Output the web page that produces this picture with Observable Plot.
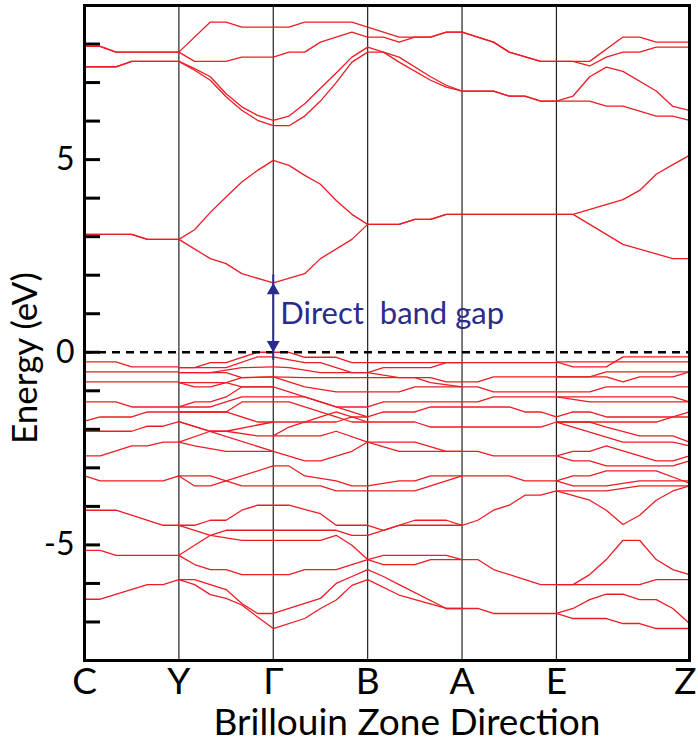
<!DOCTYPE html>
<html><head><meta charset="utf-8">
<script src="https://cdn.jsdelivr.net/npm/d3@7"></script>
<script src="https://cdn.jsdelivr.net/npm/@observablehq/plot@0.6"></script>
<style>
body{margin:0;background:#fff;}
#chart svg{font-family:Lato,"Open Sans",sans-serif;}
#chart text.pre{white-space:pre;}
</style></head><body><div id="chart"></div>
<script>
// high-symmetry points: label, path position, k-point index
const kLabels = ["C","Y","Γ","B","A","E","Z"];
const kPos = [0,1,2,3,4,5,6.41];
const kIdx = [0,6,12,18,24,30,38];
const yMajorTicks = [-5,0,5];
const yMinorTicks = [-7,-6,-5,-4,-3,-2,-1,0,1,2,3,4,5,6,7,8];
const xTitle = "Brillouin Zone Direction";
const yTitle = "Energy (eV)";
const gapNote = "Direct  band gap";
const gap = {idx:12, vbm:0, cbm:1.80};

// conduction bands: [k-index, energy eV]
const cb1 = [[0,3.06],[3,3.06],[4,2.93],[6,2.93],[8,2.43],[9,2.30],[10,2.04],[12,1.80],[14,2.04],[15,2.43],[17,2.93],[18,3.32],[20,3.32],[21,3.45],[22,3.45],[23,3.58],[31,3.58],[32,3.32],[34,2.80],[37,2.43],[38,2.43]];
const cb2 = [[0,3.06],[3,3.06],[4,2.93],[6,2.93],[7,3.18],[8,3.63],[9,4.03],[10,4.42],[11,4.72],[12,4.98],[13,4.85],[14,4.59],[15,4.36],[16,3.94],[17,3.58],[18,3.32],[20,3.32],[21,3.45],[22,3.45],[23,3.58],[31,3.58],[34,3.96],[35,4.20],[36,4.62],[37,4.87],[38,5.11]];
const cb3 = [[0,7.41],[2,7.41],[3,7.55],[6,7.55],[7,7.32],[8,7.06],[9,6.63],[10,6.28],[11,6.02],[12,5.88],[13,5.88],[14,6.13],[15,6.52],[16,7.00],[17,7.53],[18,7.79],[19,7.79],[20,7.53],[22,7.06],[23,6.88],[24,6.78],[26,6.78],[27,6.65],[28,6.65],[29,6.52],[32,6.52],[33,6.39],[34,6.39],[36,6.13],[37,6.13],[38,6.02]];
const cb4 = [[0,7.41],[2,7.41],[3,7.55],[6,7.55],[7,7.36],[8,7.15],[9,6.71],[10,6.37],[11,6.15],[12,6.02],[13,6.13],[14,6.45],[15,6.85],[16,7.25],[17,7.66],[18,7.92],[19,7.79],[20,7.66],[22,7.15],[23,6.93],[24,6.78],[26,6.78],[27,6.65],[28,6.65],[29,6.52],[30,6.52],[31,6.65],[32,7.15],[33,7.40],[34,7.29],[36,6.78],[37,6.38],[38,6.28]];
const cb5 = [[0,7.94],[1,7.94],[2,7.79],[6,7.79],[7,7.55],[9,7.55],[10,7.66],[12,7.66],[13,7.79],[14,7.79],[15,8.05],[17,8.31],[18,8.18],[19,8.18],[20,8.05],[21,8.18],[22,8.18],[23,8.31],[24,8.31],[26,8.05],[27,7.79],[29,7.55],[31,7.55],[32,7.43],[33,7.66],[34,7.79],[35,7.79],[36,7.92],[38,7.92]];
const cb6 = [[0,7.94],[1,7.94],[2,7.79],[6,7.79],[8,8.57],[9,8.57],[10,8.44],[13,8.44],[14,8.57],[17,8.57],[18,8.44],[20,8.18],[22,8.18],[23,8.31],[24,8.31],[26,8.05],[27,7.79],[29,7.55],[32,7.55],[34,8.18],[35,8.18],[36,8.05],[38,8.05]];

// valence bands, segment by segment: [k-index, energy eV]
const vbCY = [
 [[0,-0.25],[2,-0.25],[3,-0.38],[6,-0.38]],
 [[0,-0.51],[6,-0.51]],
 [[0,-0.77],[6,-0.77]],
 [[0,-1.29],[2,-1.29],[3,-1.42],[6,-1.42]],
 [[0,-1.79],[1,-1.68],[3,-1.68],[4,-1.55],[6,-1.55]],
 [[0,-2.05],[3,-2.05],[4,-1.92],[5,-1.92],[6,-1.80]],
 [[0,-2.69],[1,-2.69],[3,-2.43],[4,-2.43],[5,-2.33],[6,-2.33]],
 [[0,-3.21],[1,-3.34],[5,-3.34],[6,-3.21]],
 [[0,-4.10],[2,-4.10],[5,-4.49],[6,-4.49]],
 [[0,-5.14],[1,-5.14],[2,-5.27],[6,-5.27]],
 [[0,-6.41],[1,-6.41],[4,-6.03],[5,-6.03],[6,-5.90]]
];
const vbYG = [
 [[6,-0.40],[7,-0.40],[8,-0.27],[9,-0.27],[11,0.00],[12,0.00]],
 [[6,-0.40],[9,-0.40],[11,-0.12],[12,-0.12]],
 [[6,-0.53],[8,-0.53],[10,-0.40],[12,-0.38]],
 [[6,-0.53],[9,-0.53],[10,-0.66],[12,-0.64]],
 [[6,-0.79],[7,-0.90],[8,-0.90],[9,-0.79],[10,-0.66],[12,-0.64]],
 [[6,-0.79],[9,-0.79],[10,-0.90],[12,-0.90]],
 [[6,-1.42],[7,-1.29],[8,-1.29],[9,-1.16],[10,-0.90],[12,-0.90]],
 [[6,-1.42],[8,-1.42],[10,-1.16],[12,-1.16]],
 [[6,-1.55],[9,-1.55],[10,-1.29],[12,-1.29]],
 [[6,-1.55],[9,-1.55],[11,-1.81],[12,-1.81]],
 [[6,-1.80],[8,-2.05],[9,-2.05],[11,-2.17],[12,-2.17]],
 [[6,-1.80],[12,-2.57]],
 [[6,-2.33],[8,-2.05],[9,-2.05],[12,-1.81]],
 [[6,-2.33],[7,-2.43],[9,-2.57],[12,-2.57]],
 [[6,-3.21],[7,-3.47],[8,-3.47],[9,-3.34],[12,-2.95]],
 [[6,-3.21],[8,-3.21],[10,-3.47],[12,-3.47]],
 [[6,-4.49],[7,-4.49],[8,-4.36],[9,-4.36],[10,-4.10],[11,-3.97],[12,-3.97]],
 [[6,-4.49],[8,-4.75],[10,-4.88],[12,-4.88]],
 [[6,-5.27],[8,-4.75],[9,-4.62],[12,-4.62]],
 [[6,-5.27],[7,-5.51],[8,-5.64],[9,-5.64],[10,-5.77],[12,-5.77]],
 [[6,-5.90],[7,-5.90],[8,-6.03],[9,-6.16],[10,-6.52],[11,-6.78],[12,-6.78]],
 [[6,-5.90],[7,-6.03],[8,-6.29],[9,-6.39],[10,-6.56],[11,-6.87],[12,-7.17]]
];
const vbGB = [
 [[12,0.00],[13,0.00],[14,-0.13],[16,-0.13],[17,-0.27],[18,-0.27]],
 [[12,-0.12],[14,-0.27],[15,-0.27],[17,-0.53],[18,-0.53]],
 [[12,-0.38],[13,-0.40],[15,-0.53],[18,-0.53]],
 [[12,-0.64],[14,-0.66],[18,-0.66]],
 [[12,-0.64],[14,-0.90],[16,-1.03],[18,-1.03]],
 [[12,-0.90],[13,-1.03],[16,-1.42],[18,-1.42]],
 [[12,-1.16],[14,-1.16],[16,-1.42],[17,-1.55],[18,-1.68]],
 [[12,-1.29],[13,-1.29],[16,-1.68],[17,-1.81],[18,-1.81]],
 [[12,-1.81],[16,-1.81],[17,-1.68],[18,-1.68]],
 [[12,-2.17],[13,-1.94],[15,-1.68],[16,-1.55],[18,-1.81]],
 [[12,-2.17],[15,-2.17],[16,-2.05],[18,-2.33]],
 [[12,-2.57],[14,-2.82],[15,-2.82],[17,-2.57],[18,-2.33]],
 [[12,-2.95],[13,-2.95],[14,-3.21],[16,-3.34],[17,-3.47],[18,-3.47]],
 [[12,-3.47],[15,-3.47],[16,-3.60],[18,-3.60]],
 [[12,-3.97],[13,-3.97],[15,-4.19],[16,-4.49],[18,-4.49]],
 [[12,-4.62],[16,-4.62],[17,-4.75],[18,-4.75]],
 [[12,-4.88],[15,-4.88],[16,-4.75],[17,-5.01],[18,-5.38]],
 [[12,-5.77],[13,-5.77],[14,-5.64],[16,-5.64],[18,-5.38]],
 [[12,-6.78],[13,-6.65],[15,-6.39],[16,-6.00],[17,-5.82],[18,-5.64]],
 [[12,-7.17],[14,-6.91],[15,-6.65],[16,-6.43],[17,-6.05],[18,-5.90]]
];
const vbBA = [
 [[18,-0.27],[24,-0.27]],
 [[18,-0.53],[19,-0.40],[22,-0.40],[23,-0.27],[24,-0.27]],
 [[18,-0.53],[20,-0.66],[22,-0.66],[23,-0.77],[24,-0.77]],
 [[18,-0.66],[21,-0.66],[22,-0.79],[24,-0.90]],
 [[18,-1.03],[20,-1.03],[21,-0.90],[24,-0.90]],
 [[18,-1.42],[19,-1.29],[24,-1.29]],
 [[18,-1.68],[19,-1.55],[21,-1.55],[22,-1.42],[24,-1.42]],
 [[18,-1.81],[21,-1.81],[22,-1.94],[24,-1.94]],
 [[18,-2.33],[21,-2.33],[23,-2.57],[24,-2.57]],
 [[18,-2.33],[20,-2.57],[24,-2.57]],
 [[18,-3.47],[20,-3.34],[21,-3.34],[22,-3.21],[24,-3.21]],
 [[18,-3.60],[21,-3.60],[24,-3.21]],
 [[18,-4.49],[19,-4.62],[21,-4.36],[23,-4.36],[24,-4.49]],
 [[18,-4.75],[20,-4.49],[24,-4.49]],
 [[18,-5.38],[19,-5.27],[23,-5.27],[24,-5.38]],
 [[18,-5.38],[19,-5.51],[21,-5.51],[22,-5.38],[24,-5.38]],
 [[18,-5.64],[19,-5.82],[20,-6.03],[23,-6.65],[24,-6.65]],
 [[18,-5.90],[20,-6.30],[23,-6.65],[24,-6.65]]
];
const vbAE = [
 [[24,-0.27],[30,-0.27]],
 [[24,-0.77],[25,-0.77],[26,-0.64],[30,-0.64]],
 [[24,-0.90],[25,-0.90],[26,-1.03],[30,-1.03]],
 [[24,-1.29],[25,-1.29],[26,-1.16],[30,-1.16]],
 [[24,-1.42],[27,-1.42],[28,-1.55],[29,-1.55],[30,-1.68]],
 [[24,-1.94],[29,-1.94],[30,-1.81]],
 [[24,-2.57],[25,-2.57],[26,-2.69],[30,-2.69]],
 [[24,-3.21],[27,-3.21],[28,-3.34],[30,-3.34]],
 [[24,-4.49],[25,-4.36],[26,-4.10],[27,-3.97],[28,-3.71],[29,-3.71],[30,-3.60]],
 [[24,-5.38],[25,-5.38],[26,-5.64],[28,-5.90],[29,-6.03],[30,-6.03]],
 [[24,-6.65],[25,-6.65],[26,-6.78],[30,-6.78]]
];
const vbEZ = [
 [[30,-0.25],[31,-0.38],[33,-0.38],[34,-0.12],[38,-0.12]],
 [[30,-0.25],[38,-0.25]],
 [[30,-0.64],[33,-0.64],[34,-0.77],[35,-0.64],[37,-0.64],[38,-0.51]],
 [[30,-0.64],[32,-0.64],[33,-0.51],[38,-0.51]],
 [[30,-1.03],[32,-1.03],[33,-0.90],[38,-0.90]],
 [[30,-1.16],[32,-1.29],[38,-1.29]],
 [[30,-1.16],[37,-1.16],[38,-1.29]],
 [[30,-1.68],[31,-1.55],[32,-1.55],[33,-1.68],[37,-1.68],[38,-1.55]],
 [[30,-1.81],[36,-1.81],[37,-1.68],[38,-1.68]],
 [[30,-1.81],[32,-1.81],[33,-1.94],[35,-2.17],[37,-2.17],[38,-2.33]],
 [[30,-1.81],[34,-2.33],[37,-2.33],[38,-2.43]],
 [[30,-2.69],[31,-2.57],[32,-2.57],[33,-2.43],[36,-2.82],[37,-2.82],[38,-2.69]],
 [[30,-2.69],[31,-2.82],[32,-2.82],[33,-2.95],[37,-2.95],[38,-2.82]],
 [[30,-3.34],[31,-3.21],[32,-3.21],[33,-3.08],[36,-3.08],[38,-3.40]],
 [[30,-3.34],[31,-3.47],[33,-3.47],[35,-3.34],[38,-3.34]],
 [[30,-3.60],[32,-3.84],[33,-4.10],[34,-4.47],[35,-4.23],[36,-3.84],[37,-3.60],[38,-3.47]],
 [[30,-3.60],[33,-3.60],[35,-3.47],[38,-3.47]],
 [[30,-6.03],[31,-6.03],[32,-5.77],[33,-5.38],[34,-4.88],[35,-4.88],[36,-5.38],[37,-5.64],[38,-5.77]],
 [[30,-6.03],[35,-6.03],[36,-5.90],[38,-5.90]],
 [[30,-6.78],[31,-6.65],[32,-6.42],[33,-6.28],[34,-6.28],[35,-6.42],[36,-6.42],[37,-6.65],[38,-7.04]],
 [[30,-6.78],[31,-6.91],[33,-6.91],[34,-7.04],[35,-7.04],[36,-7.17],[38,-7.17]]
];

// k-index -> path position
function kOf(i){
  for(let s=0;s<kIdx.length-1;s++){
    if(i<=kIdx[s+1]) return kPos[s]+(i-kIdx[s])/(kIdx[s+1]-kIdx[s])*(kPos[s+1]-kPos[s]);
  }
  return kPos[kPos.length-1];
}
const polylines = [cb1,cb2,cb3,cb4,cb5,cb6, ...vbCY, ...vbYG, ...vbGB, ...vbBA, ...vbAE, ...vbEZ];
const rows = polylines.flatMap((pl,id)=>pl.map(([i,e])=>({id,k:kOf(i),e})));
const labelOf = new Map(kPos.map((p,i)=>[p,kLabels[i]]));
const gapRow = [{k:kOf(gap.idx), vbm:gap.vbm, cbm:gap.cbm, mid:(gap.vbm+gap.cbm)/2}];

const red = "#ed1c24", navy = "#2b2b8c";
const tickFont = 37;
const chart = Plot.plot({
  width:698, height:744,
  marginLeft:84, marginRight:9, marginTop:5, marginBottom:84,
  style:{background:"white", fontFamily:"Lato, 'Open Sans', sans-serif", overflow:"visible"},
  x:{domain:[0,6.41], label:null},
  y:{domain:[-8,9], label:null},
  marks:[
    Plot.ruleX(kPos.slice(1,-1), {stroke:"#222", strokeWidth:1.2}),
    Plot.line(rows, {x:"k", y:"e", z:"id", stroke:red, strokeWidth:1.3}),
    Plot.ruleY([0], {stroke:"black", strokeWidth:2.5, strokeDasharray:"8,6"}),
    Plot.ruleX(gapRow, {x:"k", y1:"vbm", y2:"cbm", stroke:navy, strokeWidth:2, insetTop:8, insetBottom:8}),
    Plot.dot(gapRow, {x:"k", y:"cbm", symbol:"triangle", r:4.8, fill:navy, stroke:null, dy:7.5}),
    Plot.dot(gapRow, {x:"k", y:"vbm", symbol:"triangle", r:4.8, fill:navy, stroke:null, rotate:180, dy:-7.5}),
    Plot.text(gapRow, {x:"k", y:"mid", text:()=>gapNote, textAnchor:"start", dx:7, dy:-4, fill:navy, fontSize:31, className:"pre"}),
    Plot.tickY(yMinorTicks, {y:d=>d, insetRight:589, stroke:"black", strokeWidth:3}),
    Plot.frame({stroke:"black", strokeWidth:3}),
    Plot.axisX(kPos.slice(0,-1), {tickSize:0, tickPadding:7, tickFormat:d=>labelOf.get(d), fontSize:tickFont, label:null, fill:"black"}),
    Plot.axisX(kPos.slice(-1), {tickSize:0, tickPadding:7, tickFormat:d=>labelOf.get(d), fontSize:tickFont, label:null, fill:"black", dx:-4}),
    Plot.axisY(yMajorTicks, {tickSize:0, tickPadding:10, tickFormat:d=>String(d), fontSize:32, label:null, fill:"black"}),
    Plot.text([xTitle], {frameAnchor:"bottom", lineAnchor:"top", dx:20, dy:48, fontSize:37, fill:"black"}),
    Plot.text([yTitle], {frameAnchor:"left", textAnchor:"middle", rotate:-90, dx:-59, dy:25, fontSize:35, fill:"black"})
  ]
});
document.getElementById("chart").appendChild(chart);
</script></body></html>
